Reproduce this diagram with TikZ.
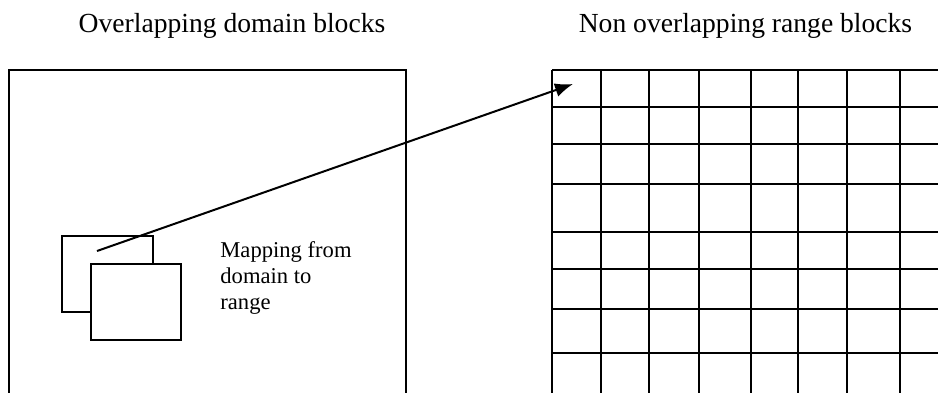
\documentclass[tikz,border=0pt]{standalone}
\usepackage{fontspec}
\setmainfont{Liberation Serif}
\usetikzlibrary{arrows.meta}
\begin{document}
\begin{tikzpicture}[x=0.5pt,y=-0.5pt,
  frame/.style={draw=black,line width=1pt},
  block/.style={draw=black,line width=1pt,fill=white},
  gridline/.style={draw=black,line width=1pt},
  title/.style={font=\fontsize{13.8}{16}\selectfont,anchor=base,inner sep=0pt},
  note/.style={font=\fontsize{11.3}{13}\selectfont,align=left,anchor=base west,inner sep=0pt},
  maparrow/.style={draw=black,line width=1pt,-{Latex[length=9pt,width=7pt]}}]
\useasboundingbox (0,0) rectangle (938,392);
\clip (0,0) rectangle (938,392);
% titles
\node[title] (tdomain) at (232,32) {Overlapping domain blocks};
\node[title] (trange) at (745.5,32) {Non overlapping range blocks};
% left frame and domain blocks
\draw[frame] (9,70) rectangle (406,420);
\draw[block] (62,236) rectangle (153,312);
\draw[block] (91,264) rectangle (181,340);
% grid of range blocks
\foreach \x in {552,601,649,699,751,798,847,900}
  \draw[gridline] (\x,70) -- (\x,420);
\foreach \y in {70,107,144,184,232,269,309,353}
  \draw[gridline] (552,\y) -- (960,\y);
% note
\node[note] (mapnote) at (220,309) {Mapping from\\domain to\\range};
% arrow
\coordinate (src) at (97,251);
\coordinate (dst) at (573,84);
\draw[maparrow] (src) -- (dst);
\end{tikzpicture}
\end{document}
